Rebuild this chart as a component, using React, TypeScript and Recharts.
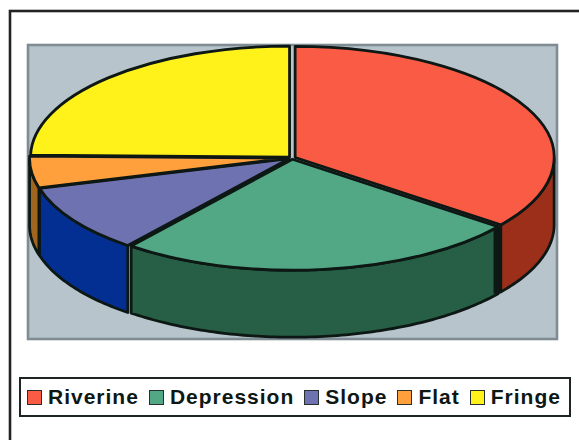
import React from "react";
import { PieChart, Pie, Legend } from "recharts";

const categories = ["Riverine", "Depression", "Slope", "Flat", "Fringe"];
const shares = [35.4, 25.3, 10.0, 4.6, 24.7];
const topColors = ["#f95b44", "#52a784", "#6f72b0", "#ffa03c", "#fff11a"];
const wallColors = ["#9c2f1a", "#265e46", "#042f92", "#a0651f", "#b8a800"];

const rows = categories.map((name, i) => ({
  name,
  value: shares[i],
  fill: topColors[i],
  wall: wallColors[i],
}));

const INK = "#0d1714";
const TILT = 111 / 259;
const DEPTH = 67;
const EXPLODE = 3.5;
const rad = (d: number) => (d * Math.PI) / 180;

function offset(p: any) {
  const mid = rad((p.startAngle + p.endAngle) / 2);
  return { ox: EXPLODE * Math.cos(mid), oy: -EXPLODE * 0.35 * Math.sin(mid) };
}

function TopFace(p: any) {
  const { ox, oy } = offset(p);
  const cx = p.cx + ox;
  const cy = p.cy + oy;
  const rx = p.outerRadius;
  const ry = rx * TILT;
  const x0 = cx + rx * Math.cos(rad(p.startAngle));
  const y0 = cy - ry * Math.sin(rad(p.startAngle));
  const x1 = cx + rx * Math.cos(rad(p.endAngle));
  const y1 = cy - ry * Math.sin(rad(p.endAngle));
  const large = Math.abs(p.endAngle - p.startAngle) > 180 ? 1 : 0;
  const d = `M${cx},${cy}L${x0},${y0}A${rx},${ry} 0 ${large} 1 ${x1},${y1}Z`;
  return <path d={d} fill={p.fill} stroke={INK} strokeWidth={2.8} strokeLinejoin="round" />;
}

function Wall(p: any) {
  const { ox, oy } = offset(p);
  const cx = p.cx + ox;
  const cy = p.cy + oy;
  const rx = p.outerRadius;
  const ry = rx * TILT;
  const pts: [number, number][] = [];
  const n = Math.ceil(Math.abs(p.endAngle - p.startAngle));
  let startVisible = false;
  for (let i = 0; i <= n; i++) {
    const a = p.startAngle + ((p.endAngle - p.startAngle) * i) / n;
    if (Math.sin(rad(a)) <= 0.001) {
      if (i === 0) startVisible = true;
      pts.push([cx + rx * Math.cos(rad(a)), cy - ry * Math.sin(rad(a))]);
    }
  }
  if (pts.length < 2) return <g />;
  const upper = pts.map((q) => `${q[0]},${q[1]}`);
  const lower = [...pts].reverse().map((q) => `${q[0]},${q[1] + DEPTH}`);
  const rightSide = pts[0][0] > cx;
  return (
    <g>
      <path
        d={`M${upper.join("L")}L${lower.join("L")}Z`}
        fill={p.wall}
        stroke={INK}
        strokeWidth={2.8}
        strokeLinejoin="round"
      />
      {startVisible && rightSide ? (
        <line
          x1={pts[0][0] - 1}
          y1={pts[0][1]}
          x2={pts[0][0] - 1}
          y2={pts[0][1] + DEPTH}
          stroke={INK}
          strokeWidth={7}
        />
      ) : null}
    </g>
  );
}

function LegendBox() {
  return (
    <div
      style={{
        boxSizing: "border-box",
        width: 552,
        height: 40,
        border: "2px solid #1c2524",
        background: "#fff",
        display: "flex",
        alignItems: "center",
        paddingLeft: 6,
        fontFamily: "'Liberation Sans', Arial, sans-serif",
        fontWeight: 700,
        fontSize: 21,
        letterSpacing: 1,
        color: "#0d1714",
      }}
    >
      {categories.map((name, i) => (
        <span key={name} style={{ display: "flex", alignItems: "center", marginRight: 10 }}>
          <span
            style={{
              boxSizing: "border-box",
              width: 15,
              height: 15,
              border: "1.5px solid #26302e",
              background: topColors[i],
              marginRight: 6,
            }}
          />
          {name}
        </span>
      ))}
    </div>
  );
}

export default function App() {
  return (
    <div style={{ position: "absolute", left: 0, top: 0, width: 579, height: 440 }}>
      <PieChart width={579} height={440} margin={{ top: 0, right: 0, bottom: 0, left: 0 }}>
        <rect x={10} y={11} width={620} height={480} fill="#fff" stroke="#222" strokeWidth={2.6} />
        <rect x={28} y={45} width={529} height={294} fill="#b8c4cc" stroke="#7f8c94" strokeWidth={2.6} />
        <Pie
          data={rows}
          dataKey="value"
          nameKey="name"
          cx={292}
          cy={158}
          outerRadius={259}
          startAngle={90}
          endAngle={-270}
          isAnimationActive={false}
          legendType="none"
          shape={Wall}
        />
        <Pie
          data={rows}
          dataKey="value"
          nameKey="name"
          cx={292}
          cy={158}
          outerRadius={259}
          startAngle={90}
          endAngle={-270}
          isAnimationActive={false}
          shape={TopFace}
        />
        <Legend
          content={<LegendBox />}
          wrapperStyle={{ position: "absolute", left: 19, top: 377, width: 552, height: 40, bottom: "auto" }}
        />
      </PieChart>
    </div>
  );
}
